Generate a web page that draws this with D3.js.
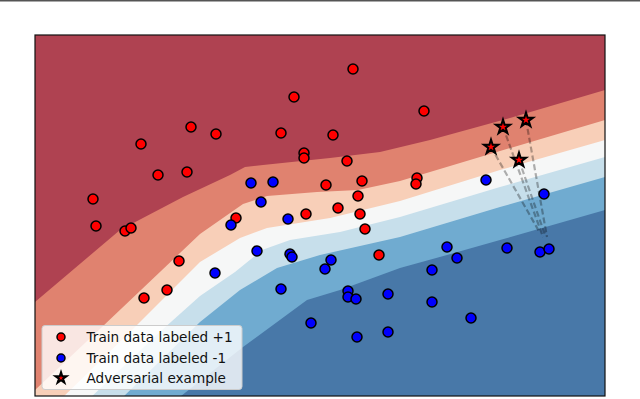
<!DOCTYPE html>
<html><head><meta charset="utf-8">
<script src="https://cdn.jsdelivr.net/npm/d3@7"></script>
<style>body{margin:0;background:#fff}svg{display:block}</style>
</head><body>
<script>
// ---- data (feature-space units) ----
const redPoints = [[3.18,3.27],[2.59,2.99],[3.89,2.85],[1.56,2.69],[1.81,2.62],[2.46,2.63],[2.98,2.61],[1.06,2.52],
 [2.69,2.43],[2.69,2.38],[3.12,2.35],[1.23,2.21],[1.52,2.24],[0.58,1.97],[0.61,1.70],[0.90,1.65],[0.96,1.68],
 [2.01,1.78],[2.91,2.11],[3.27,2.15],[3.82,2.18],[3.81,2.12],[3.23,2.00],[2.71,1.82],[3.03,1.88],[3.25,1.82],
 [3.30,1.67],[3.44,1.41],[1.44,1.35],[1.32,1.06],[1.09,0.98]];
const bluePoints = [[2.16,2.13],[2.38,2.14],[2.26,1.94],[1.96,1.71],[2.53,1.77],[2.22,1.45],[2.55,1.42],[2.57,1.39],
 [2.96,1.36],[2.90,1.27],[1.80,1.23],[2.46,1.07],[3.13,1.05],[3.13,0.99],[3.21,0.97],[3.53,1.02],[3.97,1.26],
 [3.97,0.94],[2.76,0.73],[3.22,0.59],[3.53,0.64],[4.51,2.16],[5.09,2.02],[4.12,1.49],[4.22,1.38],[4.72,1.48],
 [5.05,1.44],[5.14,1.47],[4.36,0.78]];
const advPoints = [[4.56,2.49],[4.68,2.69],[4.84,2.36],[4.91,2.76]];
const advOrigins = [[5.05,1.63],[5.08,1.59],[5.10,1.61],[5.12,1.59]];

// decision-function contour boundaries (level k separates band k and k+1)
const level1 = [[0.00,0.94],[0.85,1.66],[1.48,1.99],[1.95,2.21],[2.10,2.29],[2.28,2.31],[2.95,2.38],[3.45,2.44],[3.95,2.56],[4.75,2.78],[5.70,3.06],[5.9,3.12]];
const level2 = [[0.00,0.06],[0.67,0.69],[1.65,1.62],[2.08,1.92],[2.32,2.00],[2.82,2.04],[3.23,2.06],[3.65,2.15],[4.65,2.45],[5.70,2.76],[5.9,2.82]];
const level3 = [[0.25,-0.04],[0.97,0.66],[1.65,1.34],[2.05,1.58],[2.32,1.68],[2.95,1.78],[3.65,1.95],[4.65,2.26],[5.70,2.56],[5.9,2.62]];
const level4 = [[0.53,-0.04],[1.27,0.66],[1.65,1.00],[2.00,1.24],[2.27,1.46],[2.55,1.56],[3.05,1.64],[3.65,1.79],[4.65,2.09],[5.70,2.39],[5.9,2.45]];
const level5 = [[0.85,-0.04],[1.65,0.74],[2.05,1.06],[2.42,1.28],[2.85,1.41],[3.65,1.59],[4.65,1.89],[5.70,2.19],[5.9,2.25]];
const level6 = [[1.41,-0.04],[2.08,0.49],[2.72,0.96],[3.05,1.06],[3.65,1.28],[4.12,1.41],[4.65,1.56],[5.70,1.86],[5.9,1.92]];
const bandColors = ["#4878a8","#70abd0","#c7dfeb","#f6f7f7","#f8cfb8","#e0826f","#af4251"];
const legendLabels = ["Train data labeled +1","Train data labeled -1","Adversarial example"];

// ---- layout ----
const W = 640, H = 399;
const x = d3.scaleLinear().domain([0, 5.7]).range([35, 605]);
const y = d3.scaleLinear().domain([0, 3.61]).range([396, 35]);

const svg = d3.select("body").append("svg").attr("width", W).attr("height", H);
svg.append("rect").attr("width", W).attr("height", H).attr("fill", "#fff");
svg.append("line").attr("x1",0).attr("x2",W).attr("y1",0.5).attr("y2",0.5).attr("stroke","#555").attr("stroke-width",2);

svg.append("clipPath").attr("id","plotclip").append("rect")
  .attr("x", x(0)).attr("y", y(3.61)).attr("width", x(5.7)-x(0)).attr("height", y(0)-y(3.61));

const plot = svg.append("g").attr("clip-path","url(#plotclip)");
plot.append("rect").attr("x", x(0)).attr("y", y(3.61)).attr("width", x(5.7)-x(0)).attr("height", y(0)-y(3.61))
  .attr("fill", bandColors[0]);

const levels = [level6, level5, level4, level3, level2, level1];
const line = d3.line().x(d => x(d[0])).y(d => y(d[1]));
levels.forEach((lv, i) => {
  const poly = lv.concat([[6.5, 4.5], [-1, 4.5], [-1, -1]]);
  plot.append("path").attr("d", line(poly) + "Z").attr("fill", bandColors[i + 1]);
});

// dashed perturbation lines
plot.selectAll("line.adv").data(advPoints).join("line")
  .attr("x1", d => x(d[0])).attr("y1", d => y(d[1]))
  .attr("x2", (d,i) => x(advOrigins[i][0])).attr("y2", (d,i) => y(advOrigins[i][1]))
  .attr("stroke", "#000").attr("stroke-opacity", 0.3).attr("stroke-width", 2.2).attr("stroke-dasharray", "6,3");

plot.selectAll("circle.red").data(redPoints).join("circle")
  .attr("cx", d => x(d[0])).attr("cy", d => y(d[1])).attr("r", 5)
  .attr("fill", "#ff0000").attr("stroke", "#000").attr("stroke-width", 1.5);
plot.selectAll("circle.blue").data(bluePoints).join("circle")
  .attr("cx", d => x(d[0])).attr("cy", d => y(d[1])).attr("r", 5)
  .attr("fill", "#0000ff").attr("stroke", "#000").attr("stroke-width", 1.5);

const star = d3.symbol().type(d3.symbolStar).size(62);
plot.selectAll("path.star").data(advPoints).join("path")
  .attr("transform", d => `translate(${x(d[0])},${y(d[1])})`)
  .attr("d", star).attr("fill", "#ff0000").attr("stroke", "#000").attr("stroke-width", 2).attr("stroke-linejoin","miter");

// frame
svg.append("rect").attr("x", x(0)).attr("y", y(3.61)).attr("width", x(5.7)-x(0)).attr("height", y(0)-y(3.61))
  .attr("fill", "none").attr("stroke", "#111").attr("stroke-width", 1.2);

// legend
const lg = svg.append("g");
lg.append("rect").attr("x", 42).attr("y", 325.5).attr("width", 200).attr("height", 64).attr("rx", 3)
  .attr("fill", "#fff").attr("fill-opacity", 0.8).attr("stroke", "#ccc").attr("stroke-width", 1);
const rows = [337, 358, 378];
lg.append("circle").attr("cx", 61).attr("cy", rows[0]).attr("r", 4).attr("fill", "#ff0000").attr("stroke", "#000").attr("stroke-width", 1.5);
lg.append("circle").attr("cx", 61).attr("cy", rows[1]).attr("r", 4).attr("fill", "#0000ff").attr("stroke", "#000").attr("stroke-width", 1.5);
lg.append("path").attr("transform", `translate(61,${rows[2]})`).attr("d", d3.symbol().type(d3.symbolStar).size(38))
  .attr("fill", "#ff0000").attr("stroke", "#000").attr("stroke-width", 2);
lg.selectAll("text").data(legendLabels).join("text")
  .attr("x", 86.5).attr("y", (d,i) => rows[i]).attr("dy", "0.36em")
  .attr("font-family", "DejaVu Sans, sans-serif").attr("font-size", 13.6).attr("fill", "#111")
  .text(d => d);
</script>
</body></html>
